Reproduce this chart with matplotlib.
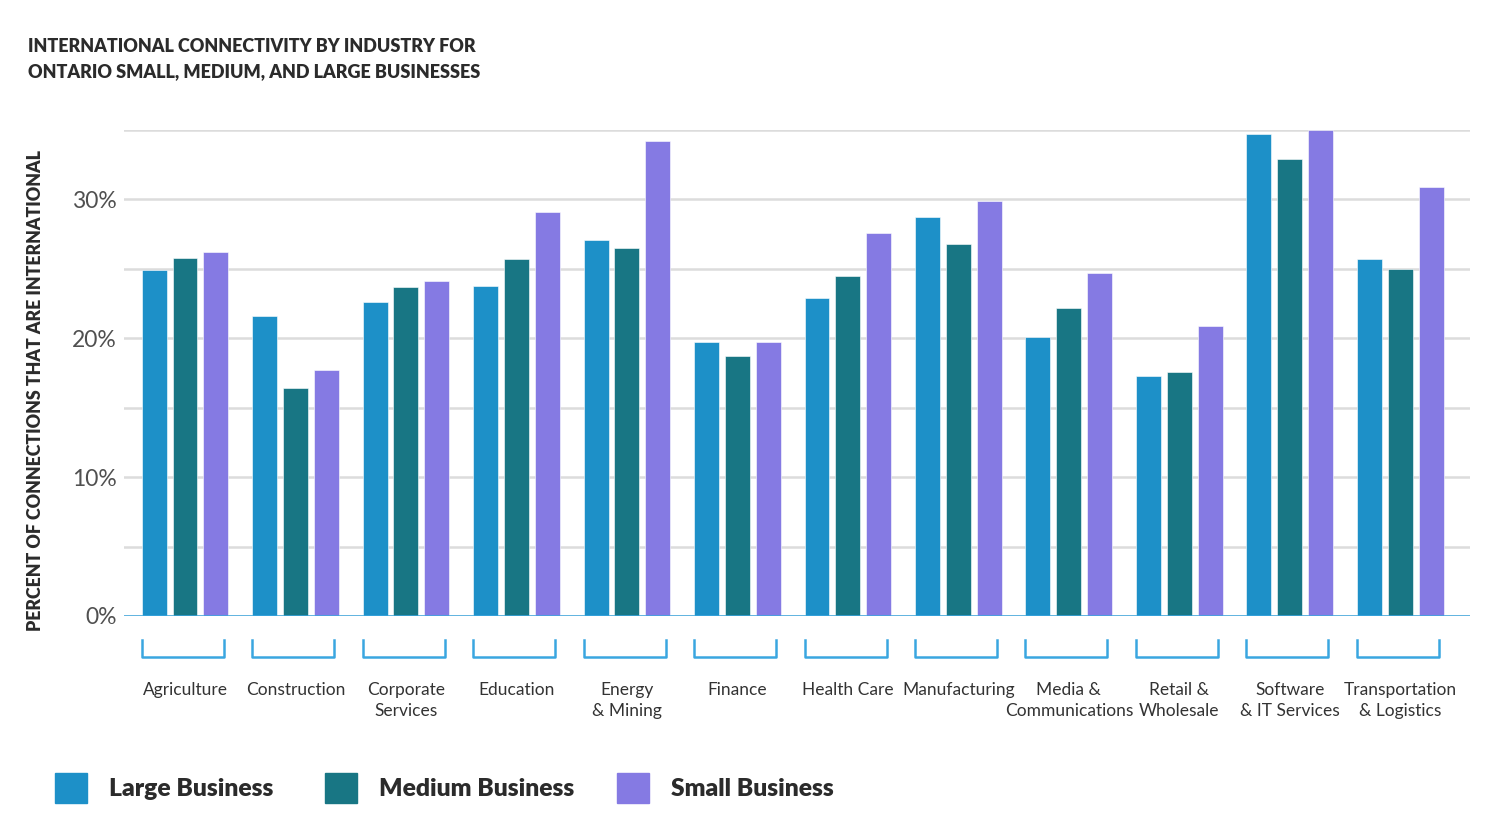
import matplotlib
matplotlib.use("Agg")
import matplotlib.pyplot as plt
from matplotlib.patches import Rectangle
from matplotlib.lines import Line2D
import numpy as np

plt.rcParams['font.family'] = ['Lato', 'DejaVu Sans']

# data
industries = ["Agriculture", "Construction", "Corporate\nServices", "Education",
              "Energy\n& Mining", "Finance", "Health Care", "Manufacturing",
              "Media &\nCommunications", "Retail &\nWholesale",
              "Software\n& IT Services", "Transportation\n& Logistics"]
large = [24.9, 21.6, 22.6, 23.8, 27.1, 19.7, 22.9, 28.7, 20.1, 17.3, 34.7, 25.7]
medium = [25.8, 16.4, 23.7, 25.7, 26.5, 18.7, 24.5, 26.8, 22.2, 17.6, 32.9, 25.0]
small = [26.2, 17.7, 24.1, 29.1, 34.2, 19.7, 27.6, 29.9, 24.7, 20.9, 35.0, 30.9]
series_names = ["Large Business", "Medium Business", "Small Business"]
colors = ["#1d90c8", "#187684", "#857ae3"]
yticks = [0, 10, 20, 30]

fig = plt.figure(figsize=(14.93, 8.39), dpi=100)
ax = fig.add_axes([124 / 1493, 1 - 616 / 839, 1346 / 1493, 486 / 839])

x = np.arange(len(industries))
w = 0.226
step = 0.28
for i, (vals, c) in enumerate(zip([large, medium, small], colors)):
    ax.bar(x + (i - 1) * step, vals, width=w, color=c, zorder=3,
           edgecolor="white", linewidth=0.4)

ax.set_xlim(-0.552, 11.63)
ax.set_ylim(0, 35)
ax.set_yticks(yticks)
ax.set_yticklabels([f"{t}%" for t in yticks])
ax.set_yticks([5, 15, 25, 35], minor=True)
ax.grid(axis="y", which="both", color="#dcdcdc", linewidth=1.8, zorder=0)
ax.tick_params(axis="y", which="both", length=0, pad=5, labelsize=16.5,
               labelcolor="#505050")
ax.set_xticks([])
for s in ["top", "right", "left", "bottom"]:
    ax.spines[s].set_visible(False)
ax.axhline(0, color="#3aa6e0", linewidth=1.8, zorder=4)

# brackets and category labels below the axis
trans = ax.get_xaxis_transform()
left_edge = -step - w / 2
bw = 82 / 110.5
for xi, name in zip(x, industries):
    x0 = xi + left_edge
    x1 = x0 + bw
    y_top = -24 / 486
    y_bot = -41 / 486
    ax.add_line(Line2D([x0, x0, x1, x1], [y_top, y_bot, y_bot, y_top],
                       transform=trans, color="#3aa6e0", linewidth=1.8,
                       clip_on=False))
    ax.text(xi, -66 / 486, name, transform=trans, ha="center", va="top",
            fontsize=12.5, color="#333333", linespacing=1.38)

ax.set_ylabel("PERCENT OF CONNECTIONS THAT ARE INTERNATIONAL",
              fontsize=12.8, fontweight="heavy", color="#2b2b2b")
ax.yaxis.set_label_coords(-80 / 1346, 0.465)

fig.text(28 / 1493, 1 - 59 / 839,
         "INTERNATIONAL CONNECTIVITY BY INDUSTRY FOR\nONTARIO SMALL, MEDIUM, AND LARGE BUSINESSES",
         ha="left", va="center", fontsize=13, fontweight="heavy", color="#2b2b2b",
         linespacing=1.55)

# legend
sq_x = [55, 325, 617]
for sx, name, c in zip(sq_x, series_names, colors):
    fig.patches.append(Rectangle((sx / 1493, 1 - 803 / 839), 32 / 1493, 30 / 839,
                                 transform=fig.transFigure, color=c))
    fig.text((sx + 54) / 1493, 1 - 789 / 839, name, ha="left", va="center",
             fontsize=17.7, fontweight="heavy", color="#2b2b2b")

fig.savefig("out.png", dpi=100)
